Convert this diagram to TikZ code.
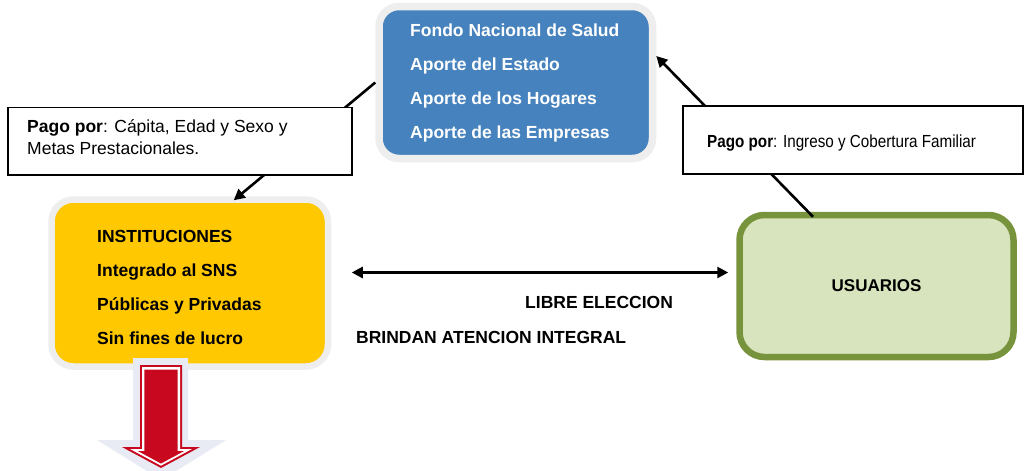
\documentclass[tikz,border=0pt]{standalone}
\usepackage{fontspec}
\setmainfont{Liberation Sans}
\newfontfamily\narrowfont{Liberation Sans}[FakeStretch=0.87]
\usetikzlibrary{arrows.meta}
\definecolor{fblue}{RGB}{70,130,189}
\definecolor{halo}{RGB}{238,238,238}
\definecolor{fyellow}{RGB}{255,200,0}
\definecolor{ggreen}{RGB}{119,147,60}
\definecolor{gfill}{RGB}{215,228,189}
\definecolor{ared}{RGB}{200,8,30}
\definecolor{aglow}{RGB}{232,235,243}
\begin{document}
\begin{tikzpicture}[x=1pt,y=-1pt,
  txt/.style={font=\fontsize{17.5}{21}\selectfont, inner sep=0pt, anchor=base west},
  btxt/.style={txt, font=\fontsize{17.5}{21}\selectfont\bfseries},
  conn/.style={draw=black, line width=2.6pt, -{Triangle[length=11pt,width=11pt]}},
  labelbox/.style={draw=black, line width=1.2pt, fill=white, inner sep=0pt},
  mainbox/.style={inner sep=0pt, rounded corners=20pt}]
\useasboundingbox (0,0) rectangle (1025,471);

% main boxes
\node[mainbox, draw=halo, line width=7.5pt, fill=fblue, minimum width=273.5pt, minimum height=152pt] (fonasa) at (515.75,82.5) {};
\node[mainbox, draw=halo, line width=6.5pt, fill=fyellow, rounded corners=22pt, minimum width=276.5pt, minimum height=167pt] (inst) at (189.75,283) {};
\node[mainbox, draw=ggreen, line width=6.5pt, fill=gfill, rounded corners=25pt, minimum width=274pt, minimum height=142pt, font=\fontsize{17}{20}\selectfont\bfseries] (usu) at (876.5,286) {USUARIOS};

% texts in blue box
\node[btxt, text=white] (f1) at (410,36) {Fondo Nacional de Salud};
\node[btxt, text=white] (f2) at (410,70) {Aporte del Estado};
\node[btxt, text=white] (f3) at (410,104) {Aporte de los Hogares};
\node[btxt, text=white] (f4) at (410,138) {Aporte de las Empresas};

% texts in yellow box
\node[btxt] (i1) at (97,242) {INSTITUCIONES};
\node[btxt] (i2) at (97,276) {Integrado al SNS};
\node[btxt] (i3) at (97,310) {Públicas y Privadas};
\node[btxt] (i4) at (97,344) {Sin fines de lucro};

% connectors
\draw[conn] (fonasa.west) -- ([xshift=44pt,yshift=-4pt]inst.north);
\draw[conn] ([xshift=-63.5pt,yshift=-5pt]usu.north) -- ([yshift=26.5pt]fonasa.east);
\draw[conn, {Triangle[length=11pt,width=11pt]}-{Triangle[length=11pt,width=11pt]}]
  ([xshift=20.5pt]inst.east |- 0,272.5) -- ([xshift=-8pt]usu.west |- 0,272.5);

% label boxes
\node[labelbox, minimum width=344pt, minimum height=67.5pt] (lab1) at (180,141.25) {};
\node[txt] (l1a) at (27,132) {\textbf{Pago por}: Cápita, Edad y Sexo y};
\node[txt] (l1b) at (27,154) {Metas Prestacionales.};
\node[labelbox, minimum width=340pt, minimum height=68pt] (lab2) at (853,140) {};
\node[txt, font=\fontsize{17.5}{21}\narrowfont] (l2) at (707,147) {\textbf{Pago por}: Ingreso y Cobertura Familiar};

% free texts
\node[btxt] (libre) at (525,308) {LIBRE ELECCION};
\node[btxt] (brindan) at (356,343) {BRINDAN ATENCION INTEGRAL};

% red down arrow
\fill[aglow] (133,358) -- (188,358) -- (188,440) -- (226,440) -- (161.5,480) -- (97,440) -- (133,440) -- cycle;
\fill[ared] (140,365) -- (182,365) -- (182,447) -- (200,447) -- (161,468) -- (122,447) -- (140,447) -- cycle;
\fill[white] (142,367) -- (180,367) -- (180,449) -- (192,449) -- (161,465.7) -- (130,449) -- (142,449) -- cycle;
\fill[ared] (144.3,369.5) -- (177.7,369.5) -- (177.7,451) -- (184.2,451) -- (161,463.5) -- (137.8,451) -- (144.3,451) -- cycle;
\end{tikzpicture}
\end{document}
